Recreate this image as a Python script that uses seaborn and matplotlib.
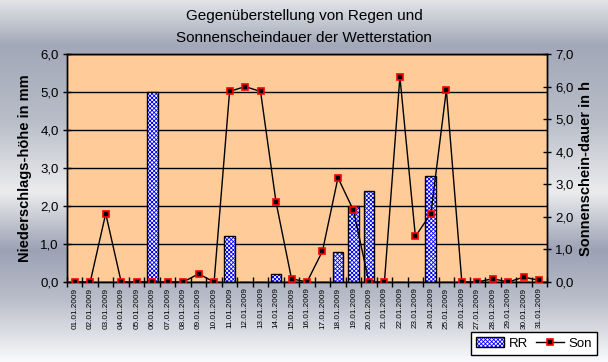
import numpy as np
import matplotlib
matplotlib.use("Agg")
import matplotlib.pyplot as plt
from matplotlib.ticker import FuncFormatter, FixedLocator
from matplotlib.patches import Patch
from matplotlib.lines import Line2D
import seaborn as sns

plt.rcParams['font.family'] = ['Liberation Sans', 'DejaVu Sans']
plt.rcParams['hatch.linewidth'] = 0.6

# ---- data ----
dates = ["01.01.2009", "02.01.2009", "03.01.2009", "04.01.2009", "05.01.2009",
         "06.01.2009", "07.01.2009", "08.01.2009", "09.01.2009", "10.01.2009",
         "11.01.2009", "12.01.2009", "13.01.2009", "14.01.2009", "15.01.2009",
         "16.01.2009", "17.01.2009", "18.01.2009", "19.01.2009", "20.01.2009",
         "21.01.2009", "22.01.2009", "23.01.2009", "24.01.2009", "25.01.2009",
         "26.01.2009", "27.01.2009", "28.01.2009", "29.01.2009", "30.01.2009",
         "31.01.2009"]
rr = [0, 0, 0, 0, 0, 5.0, 0, 0, 0, 0, 1.2, 0, 0, 0.2, 0, 0,
      0, 0.8, 2.0, 2.4, 0, 0, 0, 2.8, 0, 0, 0, 0, 0, 0, 0]
son = [0, 0, 2.1, 0, 0, 0, 0, 0, 0.25, 0, 5.85, 6.0, 5.85, 2.45, 0.1, 0,
       0.95, 3.2, 2.2, 0, 0, 6.3, 1.4, 2.1, 5.9, 0, 0, 0.1, 0, 0.15, 0.05]
left_ticks = [0, 1, 2, 3, 4, 5, 6]
right_ticks = [0, 1, 2, 3, 4, 5, 6, 7]
title = "Gegenüberstellung von Regen und\nSonnenscheindauer der Wetterstation"
ylabel_left = "Niederschlags-höhe in mm"
ylabel_right = "Sonnenschein-dauer in h"

W, H = 608, 362
fig = plt.figure(figsize=(W / 100, H / 100), dpi=100)

# background metallic gradient
bg = fig.add_axes([0, 0, 1, 1], zorder=-5)
ys = np.linspace(0, H, 400)
stops_y = [0, 45, 120, 192, 250, 300, 362]
stops_c = np.array([[226, 228, 232], [162, 168, 184], [184, 189, 200],
                    [236, 236, 238], [156, 162, 180], [186, 190, 202],
                    [250, 250, 252]]) / 255.0
grad = np.stack([np.interp(ys, stops_y, stops_c[:, k]) for k in range(3)], axis=1)
bg.imshow(grad[:, None, :], aspect='auto', extent=[0, 1, 0, 1], origin='upper')
bg.set_axis_off()

L, R, T, B = 67, 547, 54, 282
ax = fig.add_axes([L / W, (H - B) / H, (R - L) / W, (B - T) / H])
ax.set_facecolor('#FFCC99')

HATCH = 'xxxxxxxx'
# bars: hatched fill then black outline
sns.barplot(x=dates, y=rr, ax=ax, color='white', edgecolor='#0000FF',
            hatch=HATCH, linewidth=0, width=0.7, saturation=1, zorder=2)
sns.barplot(x=dates, y=rr, ax=ax, fill=False, color='black',
            linewidth=1, width=0.7, zorder=3)

ax.set_ylim(0, 6)
ax.set_xlim(-0.5, len(dates) - 0.5)
ax.yaxis.set_major_locator(FixedLocator(left_ticks))
fmt = FuncFormatter(lambda v, p: f"{v:.1f}".replace('.', ','))
ax.yaxis.set_major_formatter(fmt)
ax.set_axisbelow(True)
ax.yaxis.grid(True, color='black', linewidth=1)
ax.xaxis.grid(False)

ax.set_xticks(np.arange(len(dates)))
ax.set_xticklabels(dates, rotation=90, fontsize=5.9)
ax.set_xticks(np.arange(len(dates) + 1) - 0.5, minor=True)
ax.tick_params(axis='x', which='major', length=0, pad=4)
ax.tick_params(axis='x', which='minor', direction='inout', length=7, width=1)
ax.tick_params(axis='y', which='major', direction='inout', length=6, width=1,
               labelsize=9.5, pad=3)
ax.set_xlabel("")
ax.set_ylabel(ylabel_left, fontsize=10.5, fontweight='bold')
ax.yaxis.set_label_coords(-0.073, 0.5)
for s in ax.spines.values():
    s.set_color('black')
    s.set_linewidth(1)

# sunshine line on right axis
ax2 = ax.twinx()
sns.lineplot(x=np.arange(len(son)), y=son, ax=ax2, color='black', linewidth=1,
             marker='s', markersize=5, markerfacecolor='black',
             markeredgecolor='red', markeredgewidth=1.2, zorder=5)
ax2.set_ylim(0, 7)
ax2.yaxis.set_major_locator(FixedLocator(right_ticks))
ax2.yaxis.set_major_formatter(fmt)
ax2.tick_params(axis='y', which='major', direction='inout', length=6, width=1,
                labelsize=9.5, pad=3)
ax2.set_ylabel(ylabel_right, fontsize=10.5, fontweight='bold')
ax2.yaxis.set_label_coords(1.067, 0.5)
ax2.grid(False)
for s in ax2.spines.values():
    s.set_color('black')
    s.set_linewidth(1)

fig.text(0.5, 1 - 27 / H, title, ha='center', va='center', fontsize=11,
         linespacing=1.75)

# legend
h_bar = (Patch(facecolor='white', edgecolor='#0000FF', hatch=HATCH, linewidth=0),
         Patch(facecolor='none', edgecolor='black', linewidth=1))
h_line = Line2D([], [], color='black', linewidth=1, marker='s', markersize=5,
                markerfacecolor='black', markeredgecolor='red', markeredgewidth=1.2)
leg = fig.legend([h_bar, h_line], ["RR", "Son"], ncol=2, loc='upper right',
                 bbox_to_anchor=(597 / W, 1 - 332 / H), fontsize=9.5,
                 frameon=True, fancybox=False, edgecolor='black',
                 framealpha=1, borderpad=0.4, handlelength=2.1,
                 handletextpad=0.35, columnspacing=0.6, borderaxespad=0)
leg.get_frame().set_linewidth(1)

fig.savefig("out.png", dpi=100)
